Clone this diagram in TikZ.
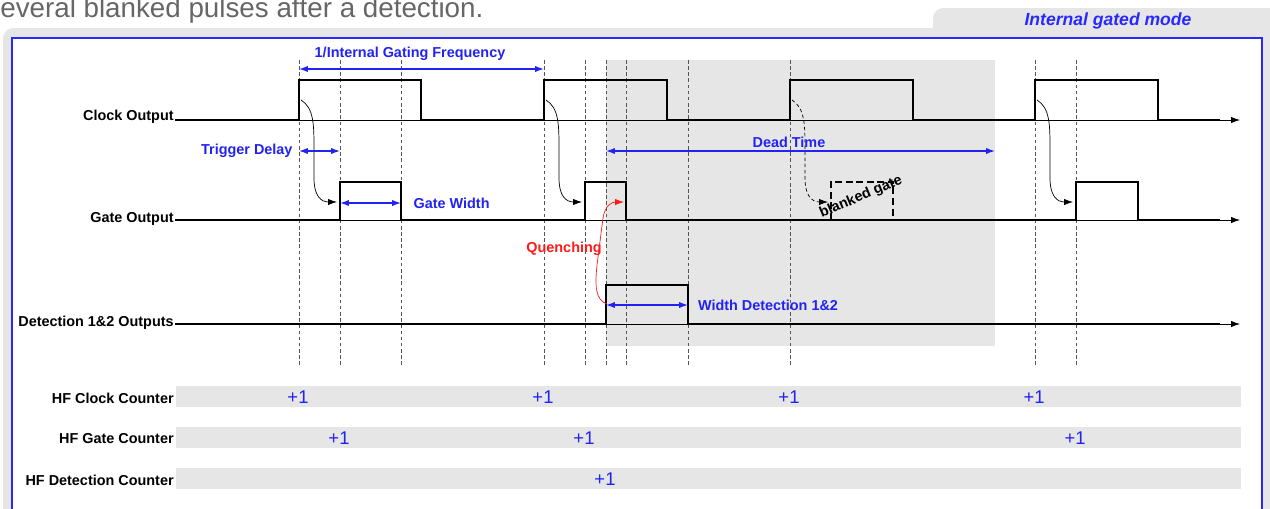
\documentclass[tikz,border=0pt]{standalone}
\usepackage{fontspec}
\setmainfont{Liberation Sans}
\usetikzlibrary{positioning, arrows.meta}
\definecolor{panel}{HTML}{E6E6E6}
\definecolor{frameB}{HTML}{2828FF}
\definecolor{annot}{HTML}{2222F2}
\definecolor{quench}{HTML}{FF1A1A}
\definecolor{muted}{HTML}{666666}
\definecolor{guideC}{HTML}{555555}

\begin{document}
\begin{tikzpicture}[x=0.02cm, y=-0.02cm,
 sig/.style={line width=1.2pt},
 axis/.style={line width=0.4pt, -{Latex[length=5pt,width=3.5pt]}},
 guide/.style={dash pattern=on 2pt off 1.5pt, line width=0.5pt, draw=guideC},
 dim/.style={draw=annot, line width=0.7pt, {Latex[length=5pt,width=3.5pt]}-{Latex[length=5pt,width=3.5pt]}},
 cause/.style={line width=0.4pt, -{Latex[length=5pt,width=3.5pt]}},
 lbl/.style={font=\bfseries\fontsize{8.2}{9}\selectfont, anchor=base east, inner sep=0pt},
 dimlbl/.style={font=\bfseries\fontsize{8.2}{9}\selectfont, text=annot, inner sep=0pt},
 cnt/.style={font=\fontsize{10.5}{11}\selectfont, text=annot, inner sep=0pt}]
\useasboundingbox (0,0) rectangle (1270,508);
\fill[panel, rounded corners=6pt] (3,540) rectangle (1290,28);
\fill[panel, rounded corners=6pt] (933,8) rectangle (1290,60);
\filldraw[fill=white, draw=frameB, line width=1.2pt] (12,38) rectangle (1262,530);
\node[font=\fontsize{15.8}{17}\selectfont, text=muted, anchor=base west, inner sep=0pt] (caption) at (0,17) {everal blanked pulses after a detection.};
\node[font=\bfseries\itshape\fontsize{10}{11}\selectfont, text=frameB, inner sep=0pt] (mode) at (1108,21) {Internal gated mode};
\fill[panel] (606,60) rectangle (995,346);
\foreach \t in {299,340,401,544,585,606,626,688,790,1035,1076} \draw[guide] (\t,60) -- (\t,367);
\foreach \y in {120,220,324} \draw[axis] (175,\y) -- (1240,\y);
\draw[sig] (175,120) -| (299,80) -| (421,120) -| (544,80) -| (667,120) -| (790,80) -| (913,120) -| (1035,80) -| (1158,120) -- (1220,120);
\draw[sig] (175,220) -| (340,182) -| (401,220) -| (585,182) -| (626,220) -| (1076,182) -| (1138,220) -- (1220,220);
\draw[sig] (175,324) -| (606,285) -| (688,324) -- (1220,324);
\draw[line width=0.9pt, dash pattern=on 4pt off 2pt] (831,220) -- (831,182) -- (893,182) -- (893,220);
\node[font=\bfseries\fontsize{8.2}{9}\selectfont, rotate=23, inner sep=0pt] (blank) at (861,197) {blanked gate};
\node[lbl] (clk) at (174,120) {Clock Output};
\node[lbl] (gate) at (174,222) {Gate Output};
\node[lbl] (det) at (174,326) {Detection 1\&2 Outputs};
\foreach \a/\b in {299/340, 544/585, 1035/1076} \draw[cause] (\a+2,100) .. controls (\a+15,108) and (\a+15,125) .. (\a+15,150) -- (\a+15,178) .. controls (\a+15,196) and (\a+22,202) .. (\b-3,202);
\draw[cause, dash pattern=on 2pt off 1.5pt] (792,100) .. controls (805,108) and (805,125) .. (805,150) -- (805,178) .. controls (805,196) and (812,202) .. (828,202);
\draw[cause, draw=quench] (607,304) .. controls (595,300) and (595,285) .. (597,265) -- (603,218) .. controls (605,205) and (612,202) .. (624,202);
\node[dimlbl, text=quench, anchor=east] (quenchlbl) at (602,249) {Quenching};
\coordinate (freqA) at (299,69); \coordinate (freqB) at (544,69);
\draw[dim] (freqA) -- (freqB);
\node[dimlbl] (freq) at (410,54) {1/Internal Gating Frequency};
\coordinate (tdA) at (299,151); \coordinate (tdB) at (340,151);
\draw[dim] (tdA) -- (tdB);
\node[dimlbl, left=3.5pt of tdA] (trig) {Trigger Delay};
\coordinate (gwA) at (340,203); \coordinate (gwB) at (401,203);
\draw[dim] (gwA) -- (gwB);
\node[dimlbl, right=7pt of gwB] (gw) {Gate Width};
\coordinate (deadA) at (606,151); \coordinate (deadB) at (995,151);
\draw[dim] (deadA) -- (deadB);
\node[dimlbl] (dead) at (789,142) {Dead Time};
\coordinate (wdA) at (606,305); \coordinate (wdB) at (688,305);
\draw[dim] (wdA) -- (wdB);
\node[dimlbl, right=5.5pt of wdB] (wdet) {Width Detection 1\&2};
\foreach \y/\name/\txt in {386/hfclk/HF Clock Counter, 427/hfgate/HF Gate Counter, 468/hfdet/HF Detection Counter} {\fill[panel] (176,\y) rectangle (1241,\y+21); \node[lbl, anchor=east] (\name) at (174,\y+12) {\txt};}
\foreach \t/\y [count=\i] in {298/397, 543/397, 789/397, 1034/397, 339/438, 584/438, 1075/438, 605/479} \node[cnt] (inc\i) at (\t,\y) {+1};
\end{tikzpicture}
\end{document}
